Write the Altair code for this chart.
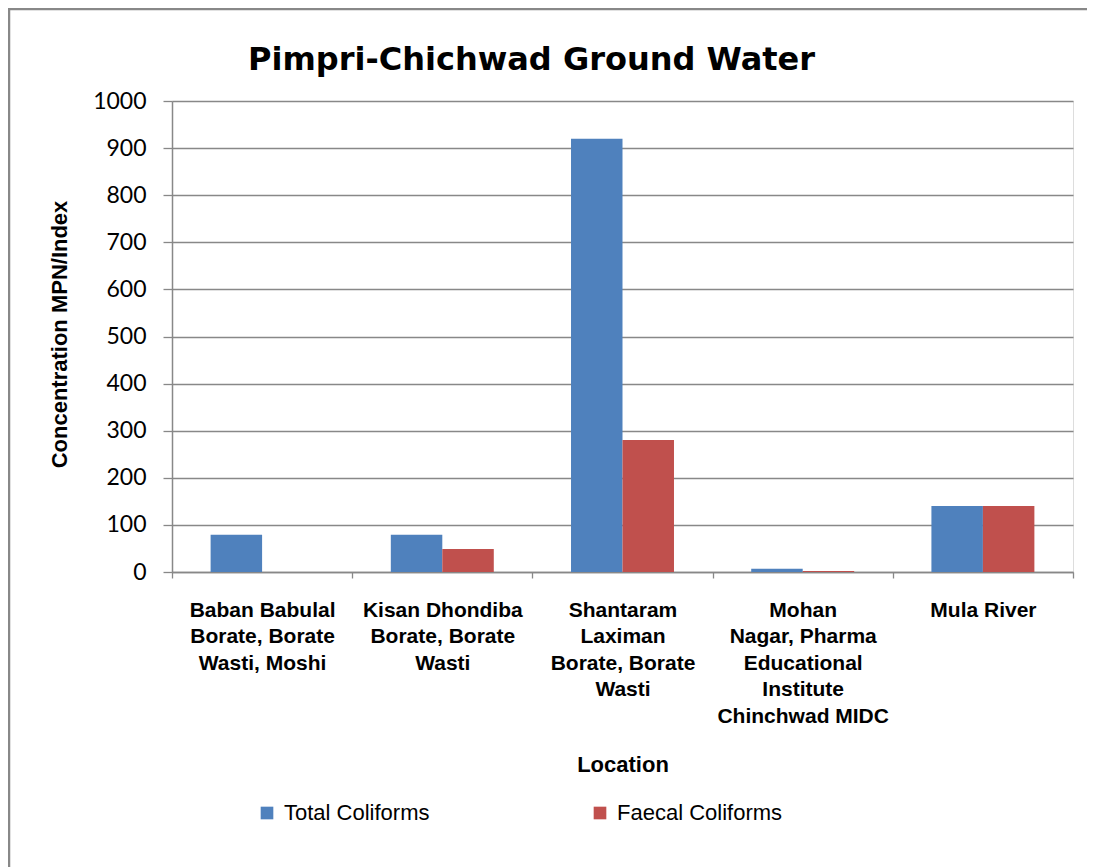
import altair as alt
import pandas as pd

locations = [
    "Baban Babulal|Borate, Borate|Wasti, Moshi",
    "Kisan Dhondiba|Borate, Borate|Wasti",
    "Shantaram|Laximan|Borate, Borate|Wasti",
    "Mohan|Nagar, Pharma|Educational|Institute|Chinchwad MIDC",
    "Mula River",
]
total_coliforms = [79, 79, 920, 7, 140]
faecal_coliforms = [0, 49, 280, 2, 140]
series = ["Total Coliforms", "Faecal Coliforms"]
colors = ["#4F81BD", "#C0504D"]
y_ticks = [0, 100, 200, 300, 400, 500, 600, 700, 800, 900, 1000]
chart_title = "Pimpri-Chichwad Ground Water"

rows = []
for loc, t, f in zip(locations, total_coliforms, faecal_coliforms):
    rows.append({"Location": loc, "Series": series[0], "Value": t})
    rows.append({"Location": loc, "Series": series[1], "Value": f})
df = pd.DataFrame(rows)

SANS = "Liberation Sans, Arial, sans-serif"
GRID = "#888888"

bars = alt.Chart(df).mark_bar().encode(
    x=alt.X(
        "Location:N",
        sort=locations,
        scale=alt.Scale(paddingInner=0, paddingOuter=0),
        axis=alt.Axis(
            title="Location",
            labelExpr="datum.value ? split(datum.value, '|') : ''",
            labelAngle=0,
            labelFont=SANS,
            labelFontWeight="bold",
            labelFontSize=21,
            labelLineHeight=26.5,
            labelColor="black",
            labelBaseline="top",
            labelPadding=21,
            labelLimit=300,
            tickBand="extent",
            tickSize=6,
            tickColor=GRID,
            tickWidth=1.3,
            domainColor=GRID,
            domainWidth=1.5,
            titleFont=SANS,
            titleFontSize=22,
            titleFontWeight="bold",
            titleColor="black",
            titleBaseline="alphabetic",
            titleY=199,
            grid=False,
        ),
    ),
    xOffset=alt.XOffset(
        "Series:N",
        sort=series,
        scale=alt.Scale(paddingInner=0, paddingOuter=0.75),
    ),
    y=alt.Y(
        "Value:Q",
        scale=alt.Scale(domain=[0, 1000]),
        axis=alt.Axis(
            title="Concentration MPN/Index",
            values=y_ticks,
            format="d",
            labelFont="Lato",
            labelFontSize=23,
            labelColor="black",
            labelPadding=17,
            tickSize=9,
            tickColor=GRID,
            tickWidth=1.3,
            domainColor=GRID,
            domainWidth=1.5,
            gridColor=GRID,
            gridWidth=1.3,
            titleFont=SANS,
            titleFontSize=22,
            titleFontWeight="bold",
            titleColor="black",
            titleAngle=-90,
            titleBaseline="alphabetic",
            titleAlign="center",
            titleX=-106,
            titleY=233,
        ),
    ),
    color=alt.Color(
        "Series:N",
        sort=series,
        scale=alt.Scale(domain=series, range=colors),
        legend=alt.Legend(
            title=None,
            orient="none",
            direction="horizontal",
            legendX=84,
            legendY=701,
            symbolType="square",
            symbolSize=160,
            symbolStrokeWidth=0,
            labelFont=SANS,
            labelFontSize=22,
            labelColor="black",
            labelOffset=6,
            columnPadding=159,
            labelLimit=400,
        ),
    ),
)

one = pd.DataFrame({"a": [0]})
title_mark = alt.Chart(one).mark_text(
    text=chart_title,
    font="DejaVu Sans",
    fontSize=32,
    fontWeight="bold",
    color="black",
    align="left",
    baseline="alphabetic",
).encode(x=alt.value(76), y=alt.value(-31))

frame_left = alt.Chart(one).mark_rule(color="#888888", strokeWidth=2.5).encode(
    x=alt.value(-163), y=alt.value(-92), y2=alt.value(900)
)
frame_top = alt.Chart(one).mark_rule(color="#888888", strokeWidth=2.5).encode(
    x=alt.value(-164), x2=alt.value(1000), y=alt.value(-92)
)

chart = alt.layer(bars, title_mark, frame_left, frame_top).properties(
    width=901,
    height=471,
    autosize=alt.AutoSizeParams(type="none"),
    padding={"left": 164, "top": 93, "right": 14, "bottom": 295},
).configure_view(stroke=None).configure(background="white")

chart.save("out.html", embed_options={"renderer": "svg", "actions": False})
